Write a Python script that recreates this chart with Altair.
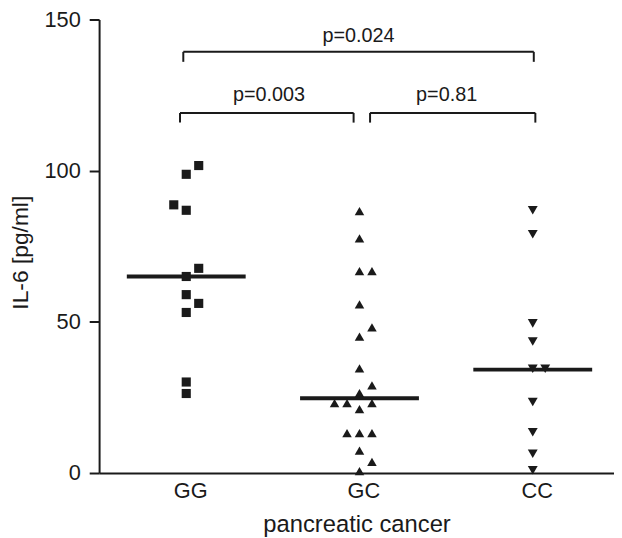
import altair as alt
import pandas as pd

# ---- data ----
categories = ["GG", "GC", "CC"]

gg_values = [101.7, 98.8, 88.7, 86.9, 67.7, 65.0, 59.0, 56.1, 53.1, 30.1, 26.3]
gg_cols = [1, 0, -1, 0, 1, 0, 0, 1, 0, 0, 0]

gc_values = [86.6, 77.6, 66.8, 66.8, 55.8, 48.2, 45.1, 34.6, 29.0, 26.4,
             23.1, 23.1, 23.1, 21.1, 13.2, 13.2, 13.2, 7.4, 3.7, 0.6]
gc_cols = [0, 0, 0, 1, 0, 1, 0, 0, 1, 0, -2, -1, 1, 0, -1, 0, 1, 0, 1, 0]

cc_values = [86.9, 79.0, 49.5, 43.5, 34.5, 34.5, 23.5, 13.5, 6.4, 0.9]
cc_cols = [0, 0, 0, 0, 0, 1, 0, 0, 0, 0]

medians = [65.0, 24.7, 34.2]

bracket_left = [-0.017, -0.036, 1.061]
bracket_right = [2.006, 0.966, 2.015]
bracket_top = [139.3, 119.1, 119.1]
bracket_bottom = [136.0, 115.9, 115.9]
p_labels = ["p=0.024", "p=0.003", "p=0.81"]
p_label_x = [0.994, 0.478, 1.503]
p_label_y = [144.6, 125.1, 125.1]

y_ticks = [0, 50, 100, 150]

# ---- build tables ----
rows = []
for ci, (vals, cols) in enumerate([(gg_values, gg_cols), (gc_values, gc_cols), (cc_values, cc_cols)]):
    for v, c in zip(vals, cols):
        rows.append({"group": categories[ci], "idx": ci, "col": c, "value": v})
points_df = pd.DataFrame(rows)

med_df = pd.DataFrame({"idx": [0, 1, 2], "median": medians})
br_df = pd.DataFrame({"left": bracket_left, "right": bracket_right,
                      "top": bracket_top, "bottom": bracket_bottom})
vt_df = pd.DataFrame({"x": bracket_left + bracket_right,
                      "top": bracket_top + bracket_top,
                      "bottom": bracket_bottom + bracket_bottom})
txt_df = pd.DataFrame({"label": p_labels, "x": p_label_x, "y": p_label_y})

FONT = "Liberation Sans"
INK = "#1a1a1a"
XDOM = [-0.503, 2.469]

xscale = alt.Scale(domain=XDOM, nice=False, zero=False)
yscale = alt.Scale(domain=[0, 150], nice=False, zero=False)

x_axis = alt.Axis(values=[0, 1, 2], labelExpr="['GG','GC','CC'][datum.value]",
                  ticks=False, grid=False, labelFontSize=22, labelPadding=8,
                  labelOffset=4, title="pancreatic cancer", titleFontSize=24,
                  titleFontWeight="normal", titlePadding=11, domainWidth=2,
                  domainColor=INK, labelColor=INK, titleColor=INK, labelFont=FONT,
                  titleFont=FONT)
y_axis = alt.Axis(values=y_ticks, grid=False, tickSize=10, tickWidth=2, tickColor=INK,
                  domainWidth=2, domainColor=INK, labelFontSize=22, labelPadding=9,
                  labelColor=INK, title="IL-6 [pg/ml]", titleFontSize=23,
                  titleFontWeight="normal", titlePadding=12, titleColor=INK,
                  titleY=235, labelFont=FONT, titleFont=FONT)

points = alt.Chart(points_df).transform_calculate(
    xpos="datum.idx + datum.col * 0.072"
).mark_point(filled=True, opacity=1, color=INK).encode(
    x=alt.X("xpos:Q", scale=xscale, axis=x_axis),
    y=alt.Y("value:Q", scale=yscale, axis=y_axis),
    shape=alt.Shape("group:N", scale=alt.Scale(domain=categories,
                    range=["square", "triangle-up", "triangle-down"]), legend=None),
    size=alt.Size("group:N", scale=alt.Scale(domain=categories, range=[85, 100, 100]), legend=None),
)

med = alt.Chart(med_df).transform_calculate(
    x1="datum.idx - 0.343", x2="datum.idx + 0.343"
).mark_rule(strokeWidth=4, color=INK).encode(
    x=alt.X("x1:Q", scale=xscale),
    x2="x2:Q",
    y=alt.Y("median:Q", scale=yscale),
)

br_h = alt.Chart(br_df).mark_rule(strokeWidth=2, color=INK).encode(
    x=alt.X("left:Q", scale=xscale),
    x2="right:Q",
    y=alt.Y("top:Q", scale=yscale),
)

br_v = alt.Chart(vt_df).mark_rule(strokeWidth=2, color=INK).encode(
    x=alt.X("x:Q", scale=xscale),
    y=alt.Y("top:Q", scale=yscale),
    y2="bottom:Q",
)

txt = alt.Chart(txt_df).mark_text(font=FONT, fontSize=20, color=INK, baseline="middle",
                                  align="center").encode(
    x=alt.X("x:Q", scale=xscale),
    y=alt.Y("y:Q", scale=yscale),
    text="label:N",
)

chart = alt.layer(points, med, br_h, br_v, txt).properties(
    width=520, height=458,
    autosize=alt.AutoSizeParams(type="none"),
    padding={"left": 92, "top": 9, "right": 0, "bottom": 62},
    background="white",
).configure_view(stroke=None)

chart.save("out.html", embed_options={"renderer": "svg", "actions": False})
